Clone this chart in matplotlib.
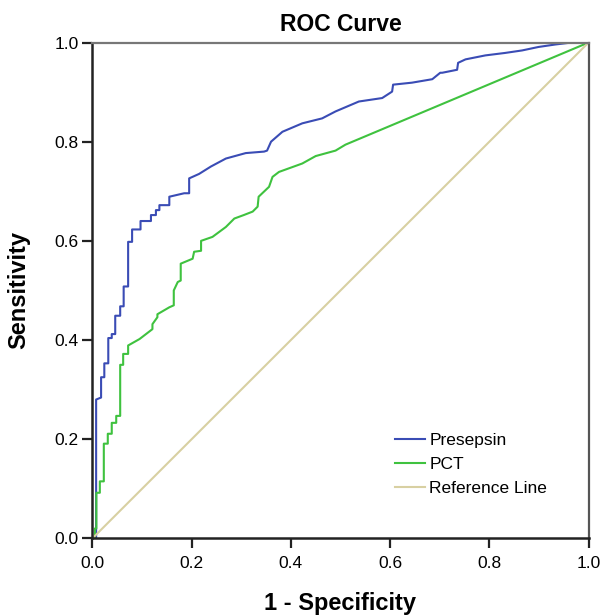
import matplotlib
matplotlib.use("Agg")
import matplotlib.pyplot as plt

plt.rcParams['font.family'] = ['Liberation Sans', 'DejaVu Sans']

# Presepsin ROC points (1-specificity, sensitivity), step-like
pre_x = [0.0, 0.0075, 0.0075, 0.0175, 0.0175, 0.024, 0.024, 0.032, 0.032, 0.039, 0.039,
         0.046, 0.046, 0.056, 0.056, 0.063, 0.063, 0.072, 0.072, 0.080, 0.080, 0.097,
         0.097, 0.118, 0.118, 0.128, 0.128, 0.135, 0.135, 0.155, 0.155, 0.185, 0.195,
         0.195, 0.215, 0.239, 0.269, 0.309, 0.346, 0.352, 0.36, 0.383, 0.423, 0.463,
         0.49, 0.537, 0.584, 0.604, 0.606, 0.644, 0.685, 0.701, 0.705, 0.735, 0.737,
         0.752, 0.792, 0.832, 0.866, 0.899, 0.933, 0.966, 1.0]
pre_y = [0.0, 0.0, 0.28, 0.284, 0.325, 0.325, 0.353, 0.353, 0.404, 0.404, 0.412,
         0.412, 0.449, 0.449, 0.468, 0.468, 0.508, 0.508, 0.598, 0.598, 0.623, 0.623,
         0.640, 0.640, 0.652, 0.652, 0.662, 0.662, 0.672, 0.672, 0.689, 0.696, 0.696,
         0.726, 0.735, 0.750, 0.766, 0.777, 0.780, 0.782, 0.800, 0.820, 0.837, 0.847,
         0.861, 0.881, 0.888, 0.901, 0.915, 0.919, 0.926, 0.939, 0.939, 0.945, 0.959,
         0.966, 0.974, 0.979, 0.984, 0.991, 0.996, 1.0, 1.0]

# PCT ROC points
pct_x = [0.0, 0.005, 0.005, 0.008, 0.008, 0.015, 0.015, 0.023, 0.023, 0.031, 0.031,
         0.039, 0.039, 0.048, 0.048, 0.056, 0.056, 0.062, 0.062, 0.072, 0.072, 0.095,
         0.121, 0.121, 0.131, 0.131, 0.155, 0.164, 0.164, 0.172, 0.178, 0.178, 0.202,
         0.205, 0.219, 0.219, 0.242, 0.269, 0.286, 0.305, 0.323, 0.333, 0.335, 0.356,
         0.363, 0.376, 0.423, 0.45, 0.49, 0.51, 1.0]
pct_y = [0.0, 0.0, 0.02, 0.02, 0.092, 0.092, 0.115, 0.115, 0.191, 0.191, 0.211,
         0.211, 0.233, 0.233, 0.247, 0.247, 0.35, 0.35, 0.372, 0.372, 0.389, 0.402,
         0.422, 0.432, 0.446, 0.452, 0.466, 0.47, 0.5, 0.517, 0.52, 0.554, 0.564,
         0.578, 0.58, 0.60, 0.608, 0.628, 0.645, 0.652, 0.659, 0.669, 0.689, 0.709,
         0.729, 0.739, 0.756, 0.771, 0.782, 0.794, 1.0]

ref_x = [0.0, 1.0]
ref_y = [0.0, 1.0]

series_names = ["Presepsin", "PCT", "Reference Line"]
ticks = [0.0, 0.2, 0.4, 0.6, 0.8, 1.0]
tick_labels = ["0.0", "0.2", "0.4", "0.6", "0.8", "1.0"]

fig = plt.figure(figsize=(6.0, 6.16), dpi=100)
ax = fig.add_axes([0.154, 0.126, 0.827, 0.805])

ax.plot(pre_x, pre_y, color="#3a4cb5", lw=1.5, label=series_names[0])
ax.plot(pct_x, pct_y, color="#3fc23f", lw=1.5, label=series_names[1])
ax.plot(ref_x, ref_y, color="#d8d0a2", lw=1.5, label=series_names[2])

ax.set_xlim(0, 1)
ax.set_ylim(0, 1)
ax.set_xticks(ticks)
ax.set_xticklabels(tick_labels)
ax.set_yticks(ticks)
ax.set_yticklabels(tick_labels)
ax.tick_params(direction="out", length=7, width=1.6, labelsize=12.5, pad=3, color="#222222")
ax.tick_params(axis="x", pad=6)

for s in ["left", "bottom"]:
    ax.spines[s].set_linewidth(1.8)
    ax.spines[s].set_color("#222222")
ax.spines["top"].set_linewidth(1.6)
ax.spines["top"].set_color("#777777")
ax.spines["right"].set_linewidth(1.6)
ax.spines["right"].set_color("#555555")

ax.set_title("ROC Curve", fontsize=16.5, fontweight="bold", pad=8)
ax.set_xlabel("1 - Specificity", fontsize=17, fontweight="bold", labelpad=15)
ax.set_ylabel("Sensitivity", fontsize=17, fontweight="bold", labelpad=17)

leg = ax.legend(loc="upper left", bbox_to_anchor=(0.609, 0.213), frameon=False,
                fontsize=12.5, handlelength=1.75, handletextpad=0.25, labelspacing=0.5,
                borderaxespad=0.0, borderpad=0.0)
for line in leg.get_lines():
    line.set_linewidth(1.5)

fig.savefig("out.png", dpi=100)
